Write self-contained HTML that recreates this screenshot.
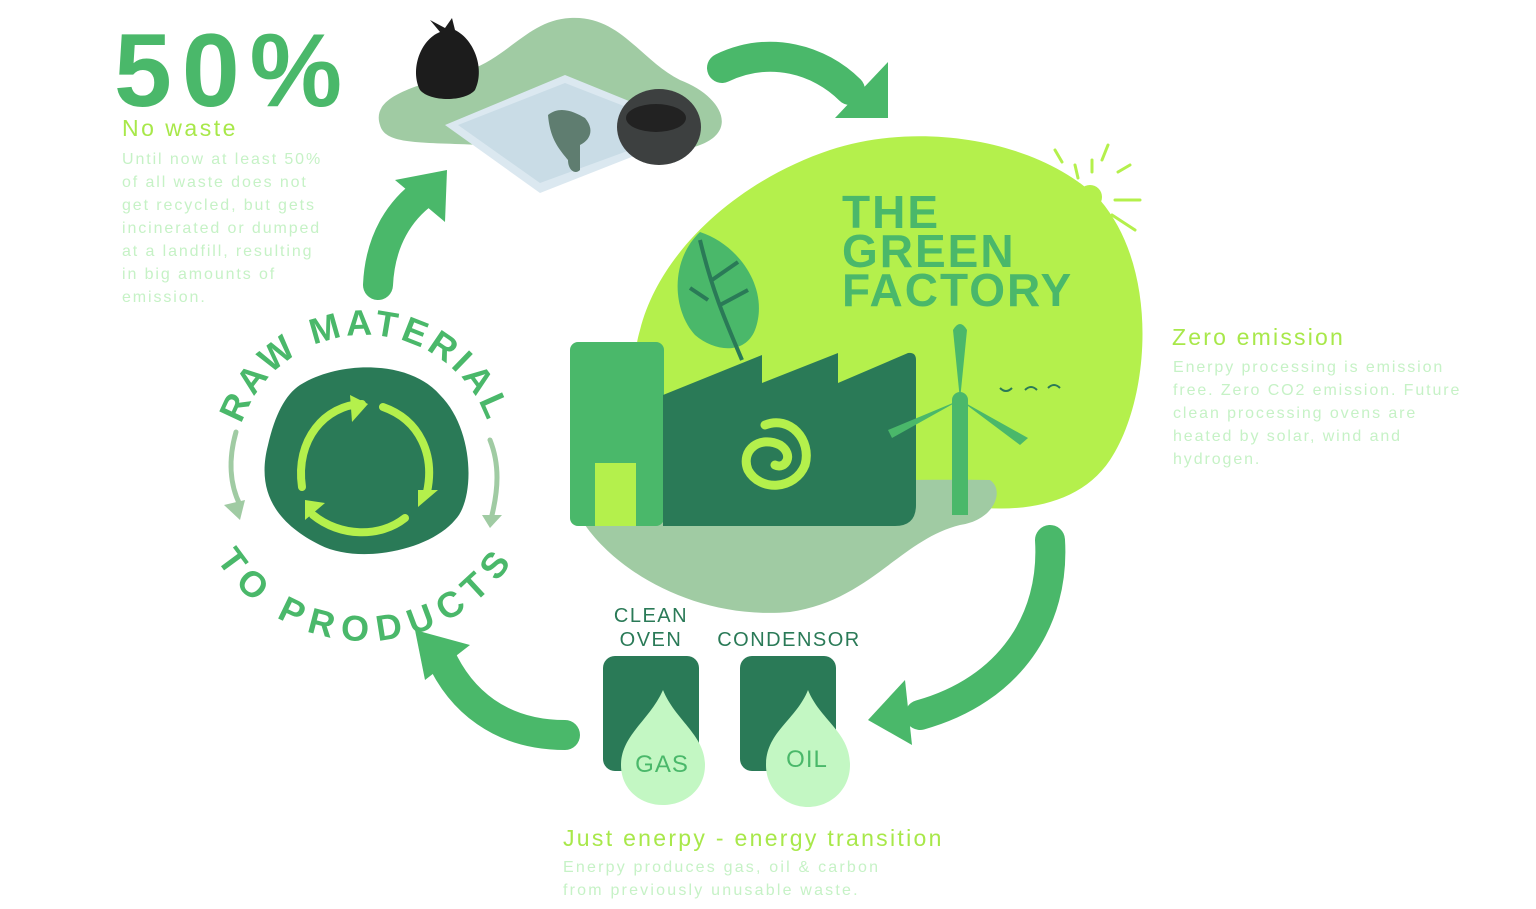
<!DOCTYPE html>
<html><head><meta charset="utf-8"><style>
html,body{margin:0;padding:0;background:#fff;}
svg{display:block;}
text{font-family:"Liberation Sans",sans-serif;}
</style></head><body>
<svg width="1536" height="909" viewBox="0 0 1536 909" xmlns="http://www.w3.org/2000/svg">
<text x="114" y="106" font-size="104" font-weight="bold" fill="#4ab86a" letter-spacing="10">50%</text>
<text x="122" y="136" font-size="23" fill="#a8e84a" letter-spacing="2.5">No waste</text>
<g font-size="16" fill="#c6f2c6" letter-spacing="1.9">
<text x="122" y="164">Until now at least 50%</text>
<text x="122" y="187">of all waste does not</text>
<text x="122" y="210">get recycled, but gets</text>
<text x="122" y="233">incinerated or dumped</text>
<text x="122" y="256">at a landfill, resulting</text>
<text x="122" y="279">in big amounts of</text>
<text x="122" y="302">emission.</text>
</g>
<path d="M380,125 C370,95 420,85 470,70 C510,55 530,20 570,18 C620,15 640,60 680,80 C720,95 740,130 700,145 C650,165 560,150 480,145 C420,142 385,145 380,125Z" fill="#a0cba3"/>
<path d="M445,125 L565,75 L700,130 L540,193 Z" fill="#dbe8f0"/>
<path d="M458,125 L565,83 L685,130 L540,183 Z" fill="#c9dce6"/>
<path d="M548,115 C560,105 575,112 585,118 C595,130 590,140 580,145 L580,170 C575,175 568,170 568,160 C560,150 550,140 548,115Z" fill="#5f7d70"/>
<ellipse cx="659" cy="127" rx="42" ry="38" fill="#3d4040"/>
<ellipse cx="656" cy="118" rx="30" ry="14" fill="#222"/>
<path d="M430,20 L445,28 L452,18 L455,30 C475,40 485,70 475,90 C465,102 430,102 420,90 C410,70 420,40 440,32Z" fill="#1c1c1c"/>
<g fill="none" stroke="#4ab86a" stroke-width="30" stroke-linecap="round">
<path d="M722,68 C770,45 820,60 850,90"/>
<path d="M378,285 C380,240 400,210 425,192"/>
<path d="M565,735 C500,735 460,700 440,655"/>
<path d="M1050,540 C1055,620 1010,690 920,715"/>
</g>
<g fill="#4ab86a">
<polygon points="888,62 888,118 835,118"/>
<polygon points="447,170 445,222 395,180"/>
<polygon points="415,630 470,645 425,680"/>
<polygon points="868,720 905,680 912,745"/>
</g>
<path d="M640,330 C660,250 740,180 830,150 C920,120 1040,140 1100,200 C1160,270 1150,400 1110,460 C1080,505 1020,515 960,505 C880,500 800,480 720,450 C650,420 625,380 640,330Z" fill="#b4f04c"/>
<circle cx="1090" cy="197" r="12" fill="#b4f04c"/>
<g stroke="#b4f04c" stroke-width="3" stroke-linecap="round">
<line x1="1055" y1="150" x2="1062" y2="162"/><line x1="1075" y1="165" x2="1078" y2="178"/><line x1="1092" y1="160" x2="1092" y2="172"/>
<line x1="1108" y1="145" x2="1102" y2="160"/><line x1="1118" y1="172" x2="1130" y2="165"/><line x1="1115" y1="200" x2="1140" y2="200"/>
<line x1="1112" y1="215" x2="1135" y2="230"/><line x1="1080" y1="185" x2="1070" y2="180"/>
</g>
<g font-size="46" font-weight="bold" fill="#4ab86a" letter-spacing="2">
<text x="842" y="228">THE</text><text x="842" y="267">GREEN</text><text x="842" y="306">FACTORY</text>
</g>
<path d="M585,525 C620,490 800,478 990,480 C1005,490 995,520 960,525 C900,540 870,600 790,612 C700,620 620,575 585,525Z" fill="#a0cba3"/>
<path d="M700,232 C740,245 770,290 755,330 C745,355 715,352 695,335 C672,310 670,260 700,232Z" fill="#4ab86a"/>
<g stroke="#2a7a57" stroke-width="4" fill="none"><path d="M700,240 C712,290 725,320 742,360"/><path d="M712,280 L738,262"/><path d="M720,305 L748,290"/><path d="M708,300 L690,288"/></g>
<rect x="570" y="342" width="94" height="184" rx="8" fill="#4ab86a"/>
<rect x="595" y="463" width="41" height="63" fill="#b4f04c"/>
<path d="M663,395 L762,355 L762,383 L838,353 L838,383 L908,353 Q916,352 916,360 L916,505 Q916,526 895,526 L663,526Z" fill="#2a7a57"/>
<path d="M765,425 C790,415 812,440 805,465 C795,490 760,492 748,470 C740,450 760,435 780,445 C795,455 785,470 775,465" fill="none" stroke="#b4f04c" stroke-width="9" stroke-linecap="round"/>
<rect x="952" y="400" width="16" height="115" fill="#4ab86a"/>
<path d="M960,400 L953,330 Q960,318 967,330Z" fill="#4ab86a"/>
<path d="M960,400 L1028,438 L1020,445Z" fill="#4ab86a"/>
<path d="M960,400 L892,438 L888,430Z" fill="#4ab86a"/>
<circle cx="960" cy="400" r="8" fill="#4ab86a"/>
<g stroke="#2a7a57" stroke-width="2" fill="none"><path d="M1000,388 q6,6 12,0"/><path d="M1025,390 q6,-6 12,0"/><path d="M1048,388 q6,-6 12,0"/></g>
<text x="1172" y="345" font-size="23" fill="#a8e84a" letter-spacing="2.2">Zero emission</text>
<g font-size="16" fill="#c6f2c6" letter-spacing="1.9">
<text x="1173" y="372">Enerpy processing is emission</text>
<text x="1173" y="395">free. Zero CO2 emission. Future</text>
<text x="1173" y="418">clean processing ovens are</text>
<text x="1173" y="441">heated by solar, wind and</text>
<text x="1173" y="464">hydrogen.</text>
</g>
<path d="M300,385 C340,360 410,360 440,395 C475,430 475,500 455,520 C430,550 360,565 320,545 C280,525 255,495 268,445 C275,415 285,395 300,385Z" fill="#2a7a57"/>
<g fill="none" stroke="#b4f04c" stroke-width="8" stroke-linecap="round">
<path d="M302,487 C295,440 325,405 362,404"/>
<path d="M383,407 C420,420 435,455 427,492"/>
<path d="M405,518 C380,538 340,537 313,515"/>
</g>
<g fill="#b4f04c"><polygon points="350,395 368,404 352,422"/><polygon points="418,490 438,490 418,507"/><polygon points="305,500 325,503 305,520"/></g>
<defs>
<path id="top" d="M235,465 A130,130 0 0 1 495,465"/>
<path id="bot" d="M215,465 A150,150 0 0 0 515,465"/>
</defs>
<text font-size="36" font-weight="bold" fill="#4ab86a" letter-spacing="4"><textPath href="#top" startOffset="50%" text-anchor="middle">RAW MATERIAL</textPath></text>
<text font-size="36" font-weight="bold" fill="#4ab86a" letter-spacing="4" dominant-baseline="hanging"><textPath href="#bot" startOffset="50%" text-anchor="middle">TO PRODUCTS</textPath></text>
<g fill="none" stroke="#a0cba3" stroke-width="5" stroke-linecap="round"><path d="M236,432 C228,460 230,485 240,505"/><path d="M490,440 C500,465 498,490 492,515"/></g>
<g fill="#a0cba3"><polygon points="224,505 245,500 240,520"/><polygon points="482,515 502,515 490,528"/></g>
<g font-size="20" fill="#2a7a57" letter-spacing="1.5" text-anchor="middle">
<text x="651" y="622">CLEAN</text><text x="651" y="646">OVEN</text><text x="789" y="646">CONDENSOR</text>
</g>
<rect x="603" y="656" width="96" height="115" rx="12" fill="#2a7a57"/>
<rect x="740" y="656" width="96" height="115" rx="12" fill="#2a7a57"/>
<path d="M663,690 C675,720 705,735 705,765 C705,790 685,805 663,805 C641,805 621,790 621,765 C621,735 650,720 663,690Z" fill="#c3f7c3"/>
<path d="M808,690 C820,720 850,732 850,765 C850,790 830,807 808,807 C786,807 766,790 766,765 C766,732 796,720 808,690Z" fill="#c3f7c3"/>
<text x="662" y="772" font-size="24" fill="#4ab86a" text-anchor="middle" letter-spacing="1">GAS</text>
<text x="807" y="767" font-size="24" fill="#4ab86a" text-anchor="middle" letter-spacing="1">OIL</text>
<text x="563" y="846" font-size="23" fill="#a8e84a" letter-spacing="2.3">Just enerpy - energy transition</text>
<g font-size="16" fill="#c6f2c6" letter-spacing="2.2">
<text x="563" y="872">Enerpy produces gas, oil &amp; carbon</text>
<text x="563" y="895">from previously unusable waste.</text>
</g>
</svg>
</body></html>
